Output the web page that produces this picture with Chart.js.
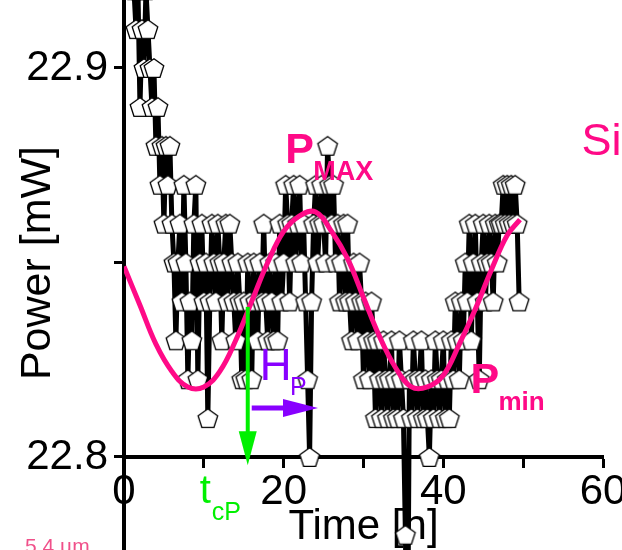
<!DOCTYPE html>
<html>
<head>
<meta charset="utf-8">
<script src="https://cdn.jsdelivr.net/npm/chart.js@4.4.1/dist/chart.umd.min.js"></script>
<style>
  html, body { margin: 0; padding: 0; background: #fff; }
  #wrap { width: 622px; height: 550px; position: relative; }
</style>
</head>
<body>
<div id="wrap"><canvas id="powerChart"></canvas></div>
<script>
// measured power, sampled every 0.25 h starting at t = 1 h
const t0 = 1;
const dt = 0.25;
const power = [
  22.93, 22.92, 22.91, 22.92, 22.89, 22.91, 22.90, 22.92, 22.91, 22.90,
  22.89, 22.90, 22.88, 22.89, 22.87, 22.88, 22.86, 22.88, 22.87, 22.88,
  22.86, 22.85, 22.83, 22.85, 22.86, 22.84, 22.87, 22.85, 22.82, 22.84,
  22.83, 22.86, 22.87, 22.82, 22.85, 22.86, 22.84, 22.85, 22.81, 22.84,
  22.86, 22.85, 22.84, 22.86, 22.85, 22.83, 22.85, 22.86, 22.84, 22.86,
  22.85, 22.84, 22.83, 22.85, 22.84, 22.82, 22.84, 22.82, 22.85, 22.84,
  22.82, 22.85, 22.84, 22.83, 22.85, 22.84, 22.86, 22.84, 22.83, 22.85,
  22.84, 22.83, 22.85, 22.83, 22.86, 22.84, 22.85, 22.87, 22.86, 22.84,
  22.86, 22.87, 22.85, 22.86, 22.87, 22.85, 22.86, 22.84, 22.82, 22.80,
  22.84, 22.86, 22.87, 22.85, 22.86, 22.87, 22.86, 22.85, 22.88, 22.87,
  22.86, 22.87, 22.85, 22.86, 22.84, 22.85, 22.86, 22.84, 22.86, 22.84,
  22.83, 22.85, 22.84, 22.83, 22.85, 22.84, 22.82, 22.84, 22.83, 22.82,
  22.84, 22.83, 22.81, 22.83, 22.82, 22.81, 22.83, 22.82, 22.81, 22.82,
  22.83, 22.81, 22.82, 22.81, 22.83, 22.82, 22.81, 22.78, 22.74, 22.82,
  22.81, 22.83, 22.82, 22.81, 22.82, 22.83, 22.81, 22.82, 22.81, 22.80,
  22.82, 22.81, 22.83, 22.82, 22.81, 22.82, 22.83, 22.81, 22.82, 22.81,
  22.83, 22.82, 22.84, 22.83, 22.82, 22.84, 22.83, 22.85, 22.84, 22.86,
  22.83, 22.85, 22.86, 22.84, 22.82, 22.85, 22.86, 22.84, 22.85, 22.86,
  22.85, 22.84, 22.86, 22.85, 22.86, 22.86, 22.87, 22.86, 22.87, 22.86,
  22.87, 22.86, 22.87, 22.86, 22.84
];

// sine fit
const fitTime = [0, 2, 4, 6, 8, 10, 12, 14, 16, 18, 20, 22, 24, 26, 28, 30, 32, 34, 36, 38, 40, 42, 44, 46, 48, 49.6];
const fitPower = [22.849, 22.839, 22.829, 22.822, 22.818, 22.818, 22.822, 22.830, 22.840, 22.850, 22.858, 22.862, 22.863,
                  22.858, 22.851, 22.841, 22.831, 22.823, 22.818, 22.818, 22.821, 22.829, 22.838, 22.848, 22.857, 22.861];

const yTicks = [22.8, 22.85, 22.9];
const yLabels = [22.8, 22.9];
const xLabels = [0, 20, 40, 60];

const PINK = '#ff0a87';
const PURPLE = '#8800ff';
const GREEN = '#00f000';
const FONT = "'Liberation Sans', Arial, sans-serif";

function pentagon(size, r) {
  const c = document.createElement('canvas');
  c.width = size;
  c.height = size;
  const g = c.getContext('2d');
  const cx = size / 2;
  const cy = size / 2 + r * 0.095;
  g.beginPath();
  for (let k = 0; k < 5; k++) {
    const a = -Math.PI / 2 + k * 2 * Math.PI / 5;
    const px = cx + r * Math.cos(a);
    const py = cy + r * Math.sin(a);
    if (k === 0) g.moveTo(px, py); else g.lineTo(px, py);
  }
  g.closePath();
  g.fillStyle = '#fff';
  g.fill();
  g.lineWidth = 1.3;
  g.strokeStyle = '#000';
  g.stroke();
  return c;
}

// annotation anchors in data units (time h, power mW)
const arrows = [
  { color: GREEN, from: [15.5, 22.8386], to: [15.5, 22.7979], width: 4, head: 34, half: 9 },
  { color: PURPLE, from: [16.0, 22.8126], to: [24.3, 22.8126], width: 5, head: 35, half: 9 }
];
const notes = [
  { text: 'P', at: [20.2, 22.8756], font: 'bold 43px', color: PINK },
  { text: 'MAX', at: [23.7, 22.8712], font: 'bold 27px', color: PINK },
  { text: 'P', at: [43.4, 22.8165], font: 'bold 43px', color: PINK },
  { text: 'min', at: [46.9, 22.8121], font: 'bold 26px', color: PINK },
  { text: 'H', at: [17.0, 22.8198], font: '44px', color: PURPLE },
  { text: 'P', at: [20.8, 22.8159], font: '25px', color: PURPLE },
  { text: 't', at: [9.5, 22.7882], font: '40px', color: GREEN },
  { text: 'cP', at: [11.0, 22.7838], font: '25px', color: GREEN },
  { text: 'Si', at: [57.3, 22.8776], font: '45px', color: PINK },
  { text: '5.4 \u00b5m', at: [-12.4, 22.7753], font: '21px', color: '#f0508a' }
];

const annotate = {
  id: 'annotate',
  afterDatasetsDraw(chart) {
    const { ctx, scales: { x, y } } = chart;
    ctx.save();
    arrows.forEach(a => {
      const x1 = x.getPixelForValue(a.from[0]), y1 = y.getPixelForValue(a.from[1]);
      const x2 = x.getPixelForValue(a.to[0]), y2 = y.getPixelForValue(a.to[1]);
      const len = Math.hypot(x2 - x1, y2 - y1);
      const ux = (x2 - x1) / len, uy = (y2 - y1) / len;
      const bx = x2 - ux * a.head, by = y2 - uy * a.head;
      ctx.strokeStyle = a.color;
      ctx.fillStyle = a.color;
      ctx.lineWidth = a.width;
      ctx.beginPath();
      ctx.moveTo(x1, y1);
      ctx.lineTo(bx + ux * 2, by + uy * 2);
      ctx.stroke();
      ctx.beginPath();
      ctx.moveTo(x2, y2);
      ctx.lineTo(bx - uy * a.half, by + ux * a.half);
      ctx.lineTo(bx + uy * a.half, by - ux * a.half);
      ctx.closePath();
      ctx.fill();
    });
    ctx.restore();
  },
  afterDraw(chart) {
    const { ctx, scales: { x, y } } = chart;
    ctx.save();
    ctx.textAlign = 'left';
    ctx.textBaseline = 'alphabetic';
    notes.forEach(n => {
      ctx.font = n.font + ' ' + FONT;
      ctx.fillStyle = n.color;
      ctx.fillText(n.text, x.getPixelForValue(n.at[0]), y.getPixelForValue(n.at[1]));
    });
    ctx.restore();
  }
};

document.addEventListener('DOMContentLoaded', () => {
  const marker = pentagon(24, 10.3);
  const measured = power.map((v, i) => ({ x: t0 + i * dt, y: v }));
  const fit = fitTime.map((t, i) => ({ x: t, y: fitPower[i] }));

  new Chart(document.getElementById('powerChart'), {
    type: 'line',
    data: {
      datasets: [
        {
          label: 'fit',
          data: fit,
          borderColor: PINK,
          borderWidth: 5,
          pointRadius: 0,
          tension: 0.4,
          order: 0
        },
        {
          label: 'power',
          data: measured,
          borderColor: '#000',
          borderWidth: 5,
          pointStyle: marker,
          pointRadius: 10,
          tension: 0,
          order: 1
        }
      ]
    },
    options: {
      animation: false,
      responsive: true,
      maintainAspectRatio: false,
      events: [],
      layout: { padding: { left: 0, right: 19, top: 0, bottom: 0 }, autoPadding: false },
      plugins: { legend: { display: false }, tooltip: { enabled: false } },
      scales: {
        x: {
          type: 'linear',
          position: { y: 22.8 },
          min: 0,
          max: 60,
          ticks: {
            stepSize: 10,
            autoSkip: false,
            maxRotation: 0,
            padding: 1,
            color: '#000',
            font: { family: FONT, size: 42 },
            callback: v => xLabels.includes(v) ? String(v) : ''
          },
          grid: { drawOnChartArea: false, tickLength: 9, tickWidth: 3, tickColor: '#000' },
          border: { width: 4, color: '#000' },
          title: {
            display: true,
            text: 'Time [h]',
            color: '#000',
            font: { family: FONT, size: 42 },
            padding: { top: 0, bottom: -96 }
          },
          afterFit: s => { s.height = 0; s.paddingLeft = 0; s.paddingRight = 0; }
        },
        y: {
          position: 'left',
          min: 22.77609,
          max: 22.91748,
          afterBuildTicks: s => { s.ticks = yTicks.map(v => ({ value: v })); },
          ticks: {
            padding: 6,
            color: '#000',
            font: { family: FONT, size: 42 },
            callback: v => yLabels.some(l => Math.abs(l - v) < 1e-6) ? v.toFixed(1) : ''
          },
          grid: { drawOnChartArea: false, tickLength: 10, tickWidth: 3, tickColor: '#000' },
          border: { width: 4, color: '#000' },
          title: {
            display: true,
            text: '  Power [mW]',
            color: '#000',
            font: { family: FONT, size: 43 },
            padding: { top: 12, bottom: 0 }
          },
          afterFit: s => { s.width = 124; s.paddingTop = 0; s.paddingBottom = 0; }
        }
      }
    },
    plugins: [annotate]
  });
});
</script>
</body>
</html>
